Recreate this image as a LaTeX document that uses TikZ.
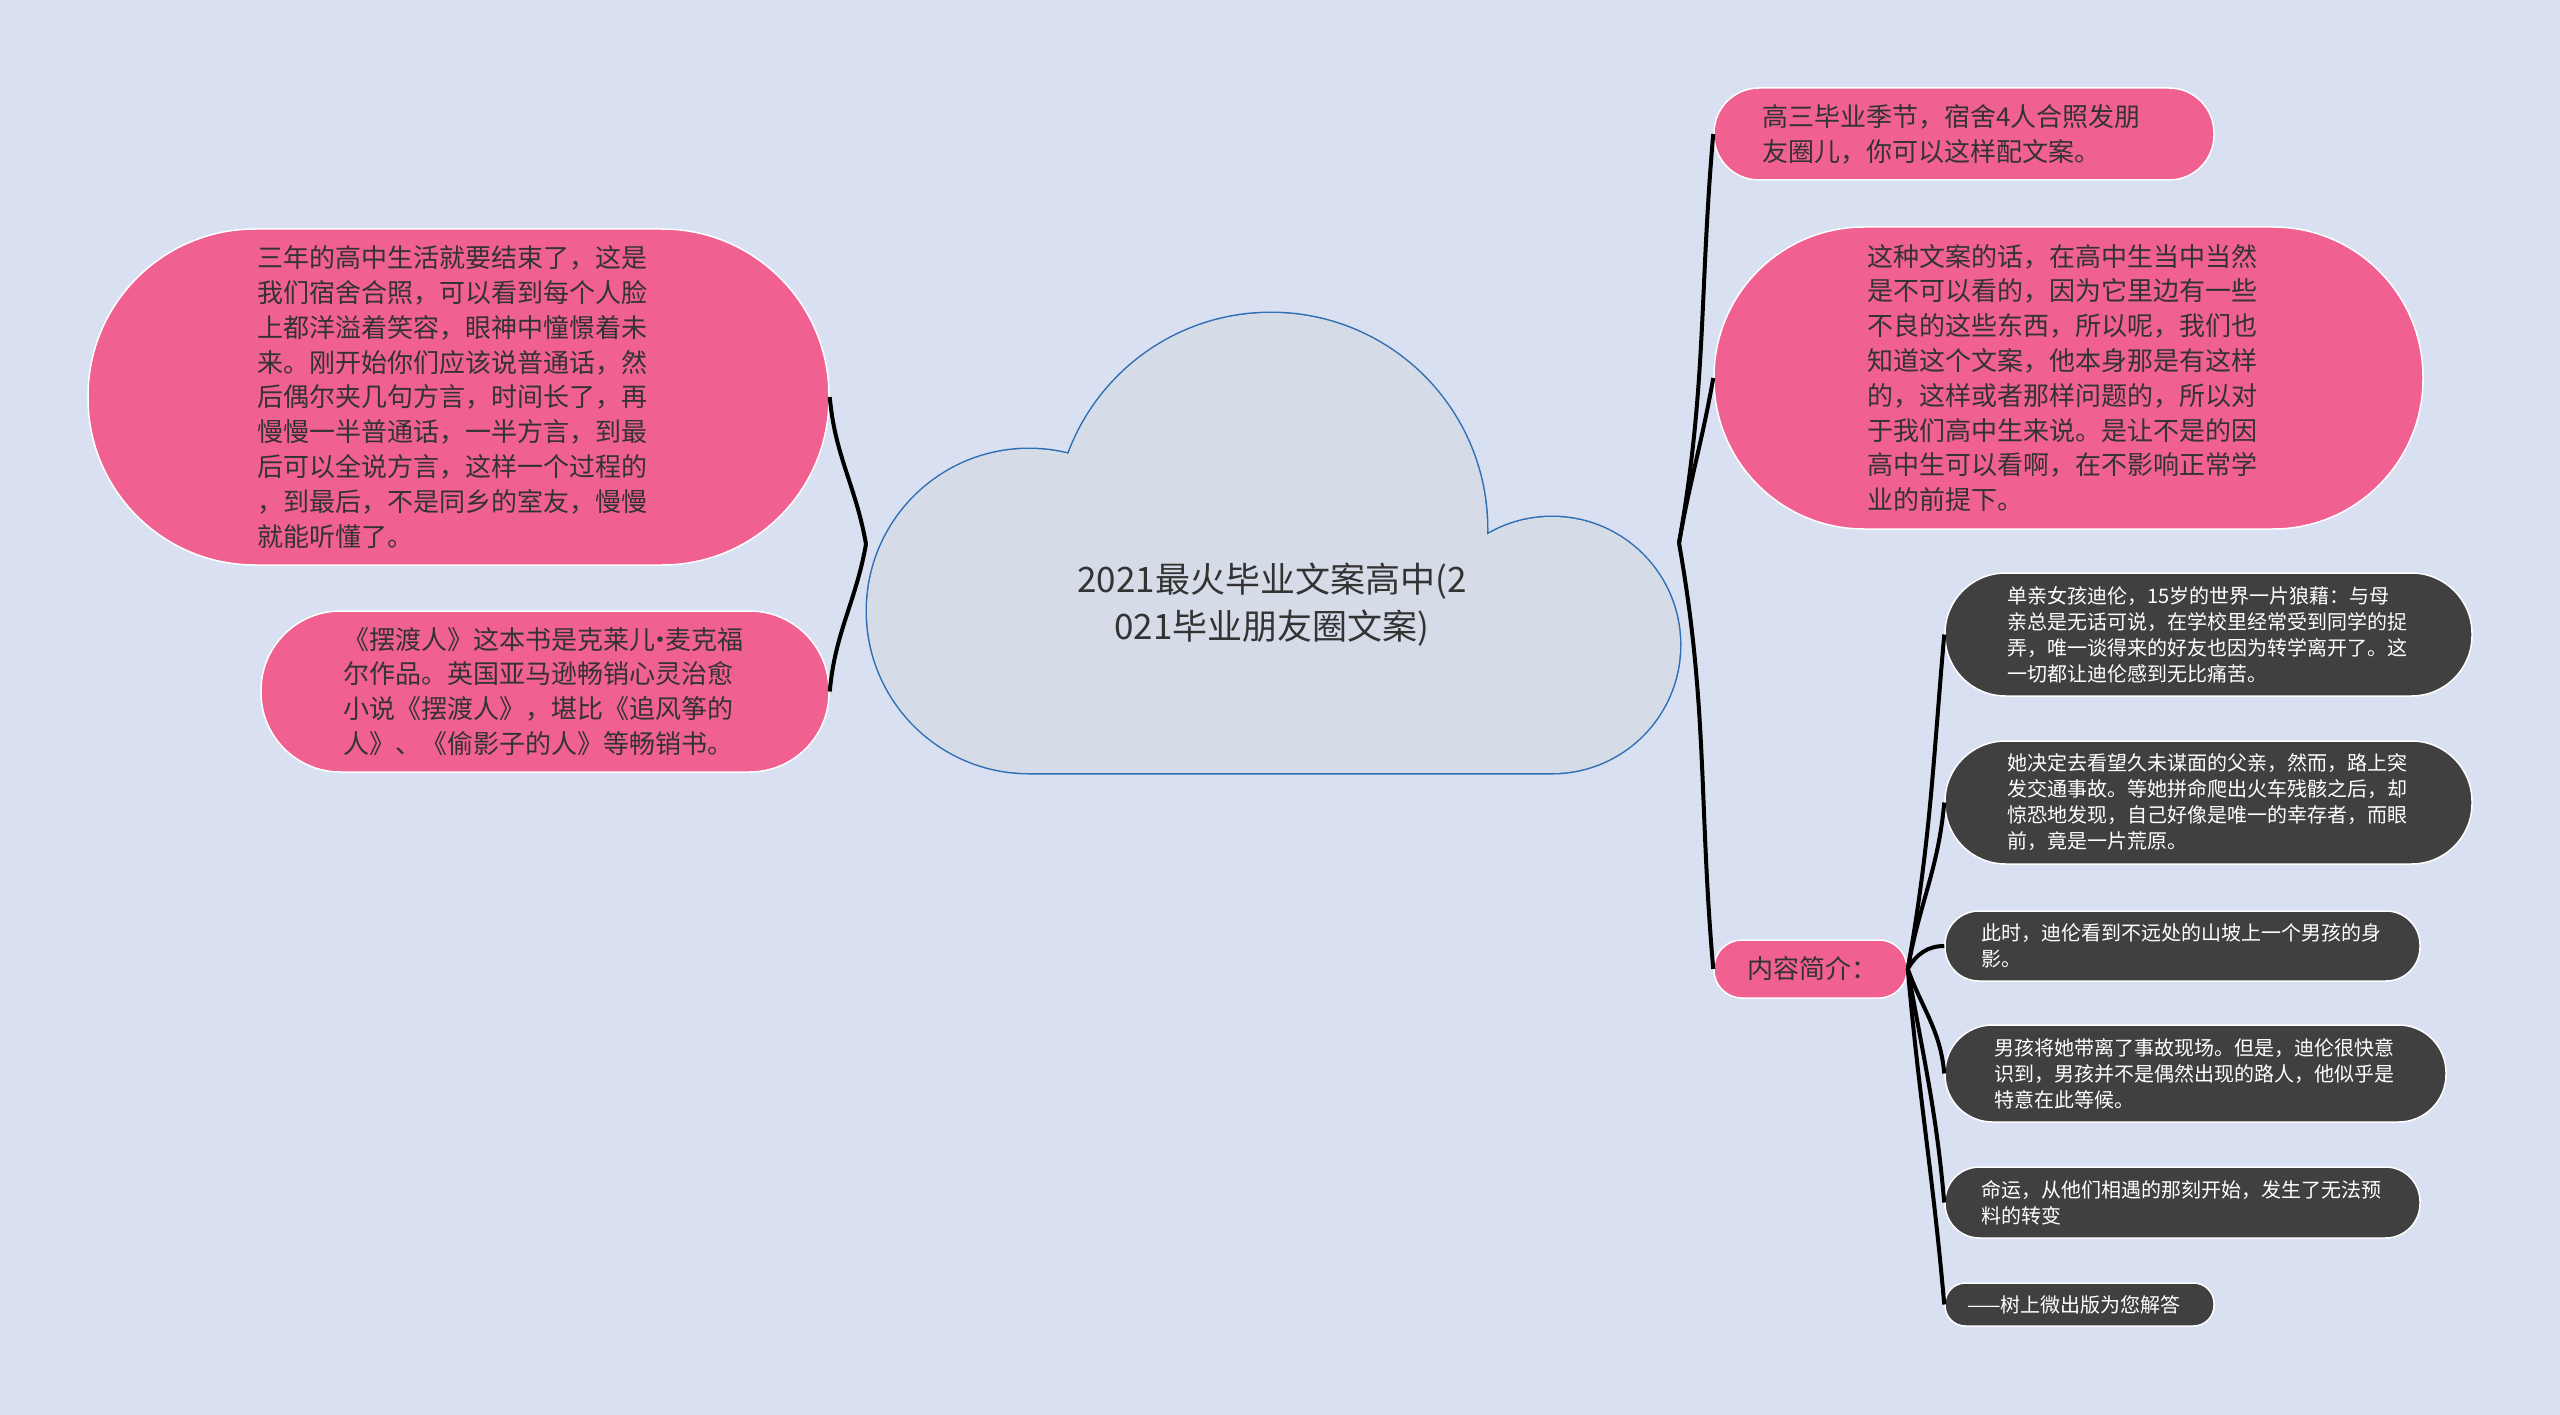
\documentclass[tikz,border=0pt]{standalone}
\usepackage{fontspec}
\setmainfont{Noto Sans CJK SC}
\usetikzlibrary{positioning}
\definecolor{bgblue}{RGB}{216,224,242}
\definecolor{cloudfill}{RGB}{213,220,231}
\definecolor{cloudline}{RGB}{46,110,180}
\definecolor{rosepink}{RGB}{240,96,145}
\definecolor{slatedark}{RGB}{64,64,64}
\definecolor{inkgray}{RGB}{51,51,51}

\tikzset{
  pill/.style 2 args={draw=white, line width=1.5pt, minimum width=#1, minimum height=#2,
    rounded corners=#2/2-1, inner sep=0pt, align=left},
  pinkbox/.style={fill=rosepink, text=inkgray, text width=403pt, font=\fontsize{26}{34.8}\selectfont},
  darkbox/.style={fill=slatedark, text=white, text width=403pt, font=\fontsize{20}{26}\selectfont},
  branch/.style={draw=black, line width=4pt}
}

\begin{document}
\begin{tikzpicture}[x=1pt, y=-1pt]
    \fill[bgblue] (0,0) rectangle (2560,1415);
    \useasboundingbox (0,0) rectangle (2560,1415);

    % cloud in the middle
    \draw[cloudline, line width=3pt] (1029,611) circle[radius=162] (1271,529) circle[radius=216]
        (1552,645) circle[radius=128] (1029,611) rectangle (1552,773);
    \fill[cloudfill] (1029,611) circle[radius=162];
    \fill[cloudfill] (1271,529) circle[radius=216];
    \fill[cloudfill] (1552,645) circle[radius=128];
    \fill[cloudfill] (1029,611) rectangle (1552,773);
    \node[font=\fontsize{35}{47}\selectfont, text=inkgray, align=center] (title) at (1272,605)
        {2021最火毕业文案高中(2\\021毕业朋友圈文案)};
    \coordinate (cloudW) at (866,544);
    \coordinate (cloudE) at (1679,543);

    % left branches
    \node[pinkbox, pill={741}{336}] (sanNian) at (458.5,397) {三年的高中生活就要结束了，这是\\
        我们宿舍合照，可以看到每个人脸\\
        上都洋溢着笑容，眼神中憧憬着未\\
        来。刚开始你们应该说普通话，然\\
        后偶尔夹几句方言，时间长了，再\\
        慢慢一半普通话，一半方言，到最\\
        后可以全说方言，这样一个过程的\\
        ，到最后，不是同乡的室友，慢慢\\
        就能听懂了。};
    \node[pinkbox, pill={568}{161}] (baiDu) at (545,691.5) {《摆渡人》这本书是克莱儿\kern-8pt·\kern-8pt麦克福\\
        尔作品。英国亚马逊畅销心灵治愈\\
        小说《摆渡人》，堪比《追风筝的\\
        人》、《偷影子的人》等畅销书。};

    % right branches
    \node[pinkbox, pill={500}{92}] (gaoSan) at (1964,134) {高三毕业季节，宿舍4人合照发朋\\
        友圈儿，你可以这样配文案。};
    \node[pinkbox, pill={709}{302}] (zheZhong) at (2068.5,378) {这种文案的话，在高中生当中当然\\
        是不可以看的，因为它里边有一些\\
        不良的这些东西，所以呢，我们也\\
        知道这个文案，他本身那是有这样\\
        的，这样或者那样问题的，所以对\\
        于我们高中生来说。是让不是的因\\
        高中生可以看啊，在不影响正常学\\
        业的前提下。};
    \node[pinkbox, pill={193}{58}, text width=127pt] (jianJie) at (1810.5,969) {内容简介：};

    % summary items
    \node[darkbox, pill={527}{123}] (danQin) at (2208.5,634.5) {单亲女孩迪伦，15岁的世界一片狼藉：与母\\
        亲总是无话可说，在学校里经常受到同学的捉\\
        弄，唯一谈得来的好友也因为转学离开了。这\\
        一切都让迪伦感到无比痛苦。};
    \node[darkbox, pill={527}{123}] (fuQin) at (2208.5,802.5) {她决定去看望久未谋面的父亲，然而，路上突\\
        发交通事故。等她拼命爬出火车残骸之后，却\\
        惊恐地发现，自己好像是唯一的幸存者，而眼\\
        前，竟是一片荒原。};
    \node[darkbox, pill={475}{70}] (shanPo) at (2182.5,946) {此时，迪伦看到不远处的山坡上一个男孩的身\\
        影。};
    \node[darkbox, pill={501}{97}] (nanHai) at (2195.5,1073.5) {男孩将她带离了事故现场。但是，迪伦很快意\\
        识到，男孩并不是偶然出现的路人，他似乎是\\
        特意在此等候。};
    \node[darkbox, pill={475}{71}] (mingYun) at (2182.5,1202.5) {命运，从他们相遇的那刻开始，发生了无法预\\
        料的转变};
    \node[darkbox, pill={269}{43}, text width=225pt] (jieDa) at (2079.5,1304.5) {——树上微出版为您解答};

    % connectors
    \draw[branch] (cloudW) to[out=100, in=-85] (sanNian.east);
    \draw[branch] (cloudW) to[out=-100, in=85] (baiDu.east);
    \draw[branch] (cloudE) to[out=80, in=-95] (gaoSan.west);
    \draw[branch] (cloudE) to[out=80, in=-100] (zheZhong.west);
    \draw[branch] (cloudE) to[out=-80, in=95] (jianJie.west);
    \foreach \n/\o/\i in {danQin/80/-95, fuQin/80/-95, shanPo/60/180,
        nanHai/-70/95, mingYun/-80/95, jieDa/-85/95}
        \draw[branch] (jianJie.east) to[out=\o, in=\i] (\n.west);
\end{tikzpicture}
\end{document}
